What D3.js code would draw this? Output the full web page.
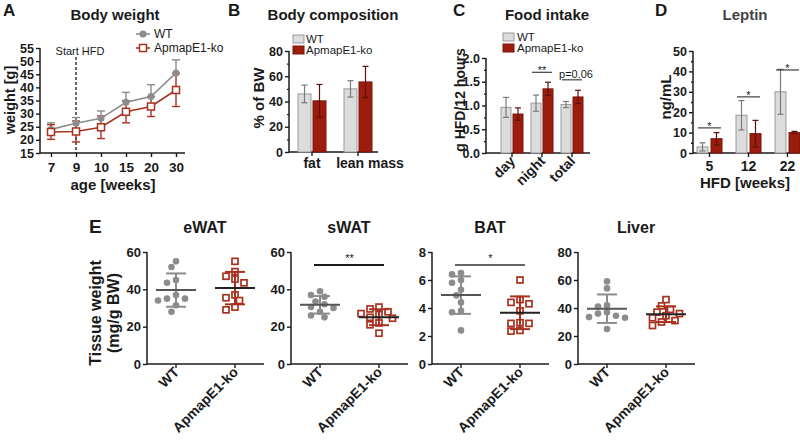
<!DOCTYPE html>
<html><head><meta charset="utf-8">
<script src="https://cdn.jsdelivr.net/npm/d3@7"></script>
<style>
body{margin:0;background:#fff}
svg{font-family:"Liberation Sans",Arial,sans-serif}
</style></head><body>
<svg id="chart" width="800" height="440"></svg>
<script>
// ---------- DATA ----------
// A: Body weight
const ageWeeks = ["7", "9", "10", "15", "20", "30"];
const wtWeight = [24, 26.3, 28.2, 34.3, 36.5, 45.5];
const wtWeightSd = [2.5, 2.2, 2.8, 3.8, 4.5, 5];
const koWeight = [23, 23.2, 24.8, 30.7, 32.7, 39];
const koWeightSd = [2.8, 4, 4.3, 4.2, 3.8, 6.3];
const weightTicks = [15, 20, 25, 30, 35, 40, 45, 50, 55];
const hfdStartWeek = "9";

// B: Body composition
const compCats = ["fat", "lean mass"];
const compWT = [46, 50];
const compWTSd = [7, 6.5];
const compKO = [40.5, 55.5];
const compKOSd = [13, 12.3];
const compTicks = [0, 20, 40, 60, 80];

// C: Food intake
const foodCats = ["day", "night", "total"];
const foodWT = [0.96, 1.05, 1.02];
const foodWTSd = [0.21, 0.17, 0.065];
const foodKO = [0.82, 1.35, 1.18];
const foodKOSd = [0.13, 0.14, 0.14];
const foodTicks = [0, 0.5, 1.0, 1.5, 2.0];
const foodSig = ["", "**", "p=0.06"];
const foodSigLevel = [null, 1.7, 1.54];

// D: Leptin
const leptinCats = ["5", "12", "22"];
const leptinWT = [3, 18.5, 30];
const leptinWTSd = [2, 7.2, 11];
const leptinKO = [7, 9.5, 10];
const leptinKOSd = [3, 6.5, 0.6];
const leptinTicks = [0, 10, 20, 30, 40, 50];
const leptinSig = ["*", "*", "*"];
const leptinSigLevel = [12.3, 27.5, 40.7];

// E: Tissue weights (individual animals)
const tissueNames = ["eWAT", "sWAT", "BAT", "Liver"];
const groups = ["WT", "ApmapE1-ko"];
const eWAT_WT = [55, 52, 45, 43.5, 37, 35, 35, 34, 31.5, 28];
const eWAT_KO = [55, 49.5, 47, 45.5, 43.5, 37, 35.5, 34, 30.5, 29];
const sWAT_WT = [39, 37, 36, 33.5, 32, 30.5, 30, 28, 26, 25];
const sWAT_KO = [30.5, 29.5, 28, 27, 26.5, 25, 24.5, 22, 21, 16.5];
const BAT_WT = [6.5, 6.4, 6.0, 5.8, 5.3, 4.9, 4.4, 3.8, 3.7, 2.4];
const BAT_KO = [6.0, 4.6, 4.4, 4.3, 3.8, 2.95, 2.9, 2.9, 2.4, 2.35];
const Liver_WT = [59, 54, 42, 41, 37, 36, 34.5, 33.5, 33, 25];
const Liver_KO = [46, 41.5, 39, 37, 36, 34.5, 33, 31, 30, 27.5];
const tissueTicks = [[0, 20, 40, 60], [0, 20, 40, 60], [0, 2, 4, 6, 8], [0, 20, 40, 60, 80]];
const tissueSig = ["", "**", "*", ""];
const tissueSigLevel = [null, 53, 7.07, null];

// ---------- STYLE ----------
const GREY = "#8c8c8c", RED = "#a8321f", BAR_GREY = "#dcdcdc", BAR_RED = "#9c1c0e";
const INK = "#1a1a1a";
const svg = d3.select("#chart");

function styleAxis(g, fs) {
  g.select(".domain").remove();
  g.selectAll(".tick line").attr("stroke", INK).attr("stroke-width", 1.4);
  g.selectAll(".tick text").attr("font-weight", "bold").attr("font-size", fs || 12.5).attr("fill", INK);
}
function hline(x1, x2, y, color, w) {
  svg.append("line").attr("x1", x1).attr("x2", x2).attr("y1", y).attr("y2", y)
    .attr("stroke", color || INK).attr("stroke-width", w || 1.5);
}
function vline(x, y1, y2, color, w) {
  svg.append("line").attr("x1", x).attr("x2", x).attr("y1", y1).attr("y2", y2)
    .attr("stroke", color || INK).attr("stroke-width", w || 1.5);
}
function text(x, y, s, opts) {
  opts = opts || {};
  const t = svg.append("text").attr("x", x).attr("y", y).text(s)
    .attr("font-size", opts.size || 14)
    .attr("font-weight", opts.weight || "bold")
    .attr("text-anchor", opts.anchor || "middle")
    .attr("fill", opts.fill || INK);
  if (opts.rotate !== undefined) t.attr("transform", `rotate(${opts.rotate},${x},${y})`);
  return t;
}
function yAxis(x, scale, ticks, minors, fmt, fs) {
  vline(x, scale.range()[0] + 0.5, scale.range()[1], INK, 1.5);
  svg.append("g").attr("transform", `translate(${x},0)`)
    .call(d3.axisLeft(scale).tickValues(ticks).tickSize(4).tickSizeOuter(0).tickPadding(2).tickFormat(fmt || d3.format("d")))
    .call(g => styleAxis(g, fs));
  if (minors) {
    svg.append("g").attr("transform", `translate(${x},0)`)
      .call(d3.axisLeft(scale).tickValues(minors).tickSize(2).tickSizeOuter(0).tickFormat(""))
      .call(g => styleAxis(g));
  }
}

// ---------- PANEL A ----------
{
  const x = d3.scalePoint().domain(ageWeeks).range([51, 176]);
  const y = d3.scaleLinear().domain([15, 55]).range([153, 48]);
  yAxis(40, y, weightTicks);
  hline(40, 185, 153);
  svg.append("g").attr("transform", "translate(0,153)")
    .call(d3.axisBottom(x).tickSize(4).tickSizeOuter(0).tickPadding(5))
    .call(g => styleAxis(g, 13.5));
  // start HFD
  svg.append("line").attr("x1", x(hfdStartWeek)).attr("x2", x(hfdStartWeek)).attr("y1", 57).attr("y2", 153)
    .attr("stroke", INK).attr("stroke-width", 1.3).attr("stroke-dasharray", "3,2");
  text(80, 55, "Start HFD", { size: 11, weight: "normal" });
  // WT error (up only)
  ageWeeks.forEach((a, i) => {
    const cx = x(a);
    vline(cx, y(wtWeight[i]), y(wtWeight[i] + wtWeightSd[i]), GREY, 1.4);
    hline(cx - 4, cx + 4, y(wtWeight[i] + wtWeightSd[i]), GREY, 1.4);
  });
  // KO error
  ageWeeks.forEach((a, i) => {
    const cx = x(a);
    vline(cx, y(koWeight[i] - koWeightSd[i]), y(koWeight[i] + koWeightSd[i]), RED, 1.4);
    hline(cx - 4, cx + 4, y(koWeight[i] - koWeightSd[i]), RED, 1.4);
    hline(cx - 4, cx + 4, y(koWeight[i] + koWeightSd[i]), RED, 1.4);
  });
  const line = d3.line().x((d, i) => x(ageWeeks[i])).y(d => y(d));
  svg.append("path").attr("d", line(wtWeight)).attr("fill", "none").attr("stroke", GREY).attr("stroke-width", 1.6);
  svg.append("path").attr("d", line(koWeight)).attr("fill", "none").attr("stroke", RED).attr("stroke-width", 1.6);
  svg.selectAll(".wtpt").data(wtWeight).join("circle")
    .attr("cx", (d, i) => x(ageWeeks[i])).attr("cy", d => y(d)).attr("r", 3.5).attr("fill", GREY);
  svg.selectAll(".kopt").data(koWeight).join("rect")
    .attr("x", (d, i) => x(ageWeeks[i]) - 3.5).attr("y", d => y(d) - 3.5).attr("width", 7).attr("height", 7)
    .attr("fill", "#fff").attr("stroke", RED).attr("stroke-width", 1.5);
  // legend
  hline(136, 150, 34, GREY, 1.6);
  svg.append("circle").attr("cx", 143).attr("cy", 34).attr("r", 3.5).attr("fill", GREY);
  text(154, 38, groups[0], { size: 12, weight: "normal", anchor: "start" });
  hline(136, 150, 48, RED, 1.6);
  svg.append("rect").attr("x", 139.5).attr("y", 44.5).attr("width", 7).attr("height", 7).attr("fill", "#fff").attr("stroke", RED).attr("stroke-width", 1.5);
  text(154, 52, groups[1], { size: 12, weight: "normal", anchor: "start" });
  text(3, 16, "A", { size: 17, anchor: "start" });
  text(115, 20, "Body weight", { size: 15 });
  text(15, 100, "weight [g]", { size: 14.5, rotate: -90 });
  text(113, 190, "age [weeks]", { size: 15 });
}

// ---------- generic bar panel ----------
function barPanel(o) {
  const x = d3.scaleBand().domain(o.cats).range(o.xRange);
  const y = d3.scaleLinear().domain(o.yDomain).range([o.y0, o.y1]);
  yAxis(o.ax, y, o.ticks, o.minors, o.fmt);
  hline(o.ax, o.axEnd, o.y0);
  const cx = c => x(c) + x.bandwidth() / 2;
  const bw = o.barW, g = o.gap;
  const series = [
    { v: o.wt, sd: o.wtSd, off: -g / 2 - bw, fill: BAR_GREY, stroke: "#9a9a9a", err: "#7a7a7a" },
    { v: o.ko, sd: o.koSd, off: g / 2, fill: BAR_RED, stroke: "#7a1408", err: "#5c120a" }
  ];
  series.forEach(s => {
    svg.append("g").selectAll("rect").data(s.v).join("rect")
      .attr("x", (d, i) => cx(o.cats[i]) + s.off).attr("width", bw)
      .attr("y", d => y(d)).attr("height", d => o.y0 - y(d))
      .attr("fill", s.fill).attr("stroke", s.stroke).attr("stroke-width", 1);
    s.v.forEach((d, i) => {
      const mx = cx(o.cats[i]) + s.off + bw / 2;
      const lo = Math.max(o.yDomain[0], d - s.sd[i]), hi = d + s.sd[i];
      vline(mx, y(lo), y(hi), s.err, 1.2);
      hline(mx - 3, mx + 3, y(hi), s.err, 1.2);
      hline(mx - 3, mx + 3, y(lo), s.err, 1.2);
    });
  });
  o.cats.forEach(c => vline(cx(c), o.y0, o.y0 + 4, INK, 1.4));
  if (o.sig) {
    o.sig.forEach((s, i) => {
      if (!s) return;
      const c = cx(o.cats[i]);
      const ly = y(o.sigLevel[i]);
      hline(c - g / 2 - bw + 1, c + g / 2 + bw - 1, ly, INK, 1);
      if (s.startsWith("p")) text(c + 4, ly - 2, s, { size: 11, weight: "normal" });
      else text(c, ly + 2, s, { size: 11, weight: "normal" });
    });
  }
  return { x, y, cx };
}

// ---------- PANEL B ----------
{
  const p = barPanel({
    cats: compCats, xRange: [289, 381], yDomain: [0, 80], y0: 152, y1: 51, ax: 289, axEnd: 378,
    ticks: compTicks, minors: [10, 30, 50, 70], barW: 13, gap: 2,
    wt: compWT, wtSd: compWTSd, ko: compKO, koSd: compKOSd
  });
  compCats.forEach((c, i) => text(p.cx(c) + (i ? 12 : 0), 168, c, { size: 14 }));
  svg.append("rect").attr("x", 293).attr("y", 35).attr("width", 11).attr("height", 8).attr("fill", BAR_GREY).attr("stroke", "#9a9a9a");
  svg.append("rect").attr("x", 293).attr("y", 46).attr("width", 11).attr("height", 8).attr("fill", BAR_RED).attr("stroke", "#7a1408");
  text(306, 43, groups[0], { size: 11.5, weight: "normal", anchor: "start" });
  text(306, 54, groups[1], { size: 11.5, weight: "normal", anchor: "start" });
  text(228, 16, "B", { size: 17, anchor: "start" });
  text(333, 20, "Body composition", { size: 15 });
  text(264, 98, "% of BW", { size: 15, rotate: -90 });
}

// ---------- PANEL C ----------
{
  const p = barPanel({
    cats: foodCats, xRange: [497, 587], yDomain: [0, 2], y0: 153, y1: 58, ax: 486, axEnd: 590,
    ticks: foodTicks, minors: [0.25, 0.75, 1.25, 1.75], barW: 10, gap: 2, fmt: d3.format(".1f"),
    wt: foodWT, wtSd: foodWTSd, ko: foodKO, koSd: foodKOSd, sig: foodSig, sigLevel: foodSigLevel
  });
  foodCats.forEach(c => text(p.cx(c) + 4, 162, c, { size: 14, anchor: "end", rotate: -45 }));
  svg.append("rect").attr("x", 503).attr("y", 33).attr("width", 11).attr("height", 8).attr("fill", BAR_GREY).attr("stroke", "#9a9a9a");
  svg.append("rect").attr("x", 503).attr("y", 44).attr("width", 11).attr("height", 8).attr("fill", BAR_RED).attr("stroke", "#7a1408");
  text(517, 41, groups[0], { size: 11.5, weight: "normal", anchor: "start" });
  text(517, 52, groups[1], { size: 11.5, weight: "normal", anchor: "start" });
  text(453, 16, "C", { size: 17, anchor: "start" });
  text(547, 20, "Food intake", { size: 15 });
  text(465, 100, "g HFD/12 hours", { size: 14, rotate: -90 });
}

// ---------- PANEL D ----------
{
  const p = barPanel({
    cats: leptinCats, xRange: [690, 807], yDomain: [0, 50], y0: 153, y1: 51, ax: 693, axEnd: 800,
    ticks: leptinTicks, minors: [5, 15, 25, 35, 45], barW: 11, gap: 3,
    wt: leptinWT, wtSd: leptinWTSd, ko: leptinKO, koSd: leptinKOSd, sig: leptinSig, sigLevel: leptinSigLevel
  });
  leptinCats.forEach(c => text(p.cx(c), 171, c, { size: 14 }));
  text(655, 16, "D", { size: 17, anchor: "start" });
  text(745, 20, "Leptin", { size: 15, fill: "#444" });
  text(671, 97, "ng/mL", { size: 15, rotate: -90 });
  text(745, 188, "HFD [weeks]", { size: 15 });
}

// ---------- PANEL E ----------
function swarm(vals, y, cx) {
  const placed = [];
  const sorted = vals.slice().sort((a, b) => b - a);
  const step = 4.5, minD = 7;
  return sorted.map(v => {
    const py = y(v);
    let px = cx;
    for (let k = 0; k < 12; k++) {
      const off = k === 0 ? 0 : (k % 2 ? -1 : 1) * Math.ceil(k / 2) * step;
      const cand = cx + off;
      if (placed.every(p => Math.hypot(p[0] - cand, p[1] - py) >= minD)) { px = cand; break; }
    }
    placed.push([px, py]);
    return { v, x: px, y: py };
  });
}
{
  const tissueData = [[eWAT_WT, eWAT_KO], [sWAT_WT, sWAT_KO], [BAT_WT, BAT_KO], [Liver_WT, Liver_KO]];
  const origins = [147, 291, 432, 578];
  tissueNames.forEach((name, ti) => {
    const x0 = origins[ti];
    const ticks = tissueTicks[ti];
    const x = d3.scaleBand().domain(groups).range([x0 - 0.5, x0 + 117.5]);
    const y = d3.scaleLinear().domain([0, d3.max(ticks)]).range([364, 252]);
    yAxis(x0, y, ticks, null, null, 13);
    hline(x0, x0 + 117, 364);
    const cx = g => x(g) + x.bandwidth() / 2;
    groups.forEach(g => vline(cx(g), 364, 368, INK, 1.4));
    text(cx(groups[0]) + 4, 373, groups[0], { size: 14, anchor: "end", rotate: -45 });
    text(cx(groups[1]) + 4, 373, groups[1], { size: 14, anchor: "end", rotate: -45 });
    text(x0 + 58, 233, name, { size: 16 });
    tissueData[ti].forEach((vals, gi) => {
      const c = cx(groups[gi]);
      const m = d3.mean(vals), sd = d3.deviation(vals);
      const col = gi ? RED : GREY;
      const pts = swarm(vals, y, c);
      if (gi === 0) {
        svg.append("g").selectAll("circle").data(pts).join("circle")
          .attr("cx", d => d.x).attr("cy", d => d.y).attr("r", 3.3).attr("fill", GREY);
      } else {
        svg.append("g").selectAll("rect").data(pts).join("rect")
          .attr("x", d => d.x - 3).attr("y", d => d.y - 3).attr("width", 6).attr("height", 6)
          .attr("fill", "#fff").attr("stroke", RED).attr("stroke-width", 1.7);
      }
      vline(c, y(m - sd), y(m + sd), col, 2);
      hline(c - 10, c + 10, y(m + sd), col, 2);
      hline(c - 10, c + 10, y(m - sd), col, 2);
      hline(c - 20, c + 20, y(m), gi ? "#222" : "#555", 2);
    });
    if (tissueSig[ti]) {
      const ly = y(tissueSigLevel[ti]);
      hline(cx(groups[0]) - 6, cx(groups[1]) + 5, ly, ti === 2 ? "#666" : INK, 2);
      text((cx(groups[0]) + cx(groups[1])) / 2, ly - 3, tissueSig[ti], { size: 11, weight: "normal" });
    }
  });
  text(89, 233, "E", { size: 19, anchor: "start" });
  text(101, 313, "Tissue weight", { size: 16, rotate: -90 });
  text(119, 313, "(mg/g BW)", { size: 16, rotate: -90 });
}
</script>
</body></html>
